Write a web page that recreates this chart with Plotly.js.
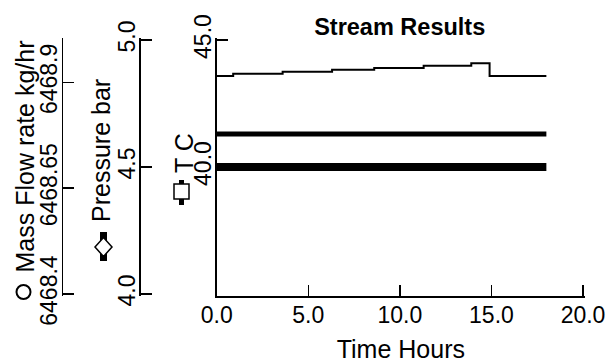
<!DOCTYPE html>
<html><head><meta charset="utf-8">
<script src="https://cdn.plot.ly/plotly-3.0.1.min.js"></script>
<style>html,body{margin:0;padding:0;background:#fff}#chart{width:610px;height:363px}</style>
</head><body><div id="chart"></div>
<script>
// ---- data ----
const timeHours     = [0, 0.9, 3.6, 6.3, 8.6, 11.3, 13.9, 14.9, 18.0];
const massFlowKgHr  = [6468.915, 6468.920, 6468.925, 6468.930, 6468.934, 6468.939, 6468.945, 6468.915, 6468.915];
const pressureBar   = [4.5, 4.5, 4.5, 4.5, 4.5, 4.5, 4.5, 4.5, 4.5];
const temperatureC  = [41.3, 41.3, 41.3, 41.3, 41.3, 41.3, 41.3, 41.3, 41.3];
const xTickVals     = [0, 5, 10, 15, 20];
const tempTickVals  = [40, 45];
const presTickVals  = [4.0, 4.5, 5.0];
const massTickVals  = [6468.4, 6468.65, 6468.9];
const massTickText  = ['6468.4', '6468.65', '6468.9'];

// ---- geometry helpers (pixel -> paper) ----
const W = 610, H = 363, ML = 0, MR = 25, MT = 38, MB = 67;
const PW = W - ML - MR, PH = H - MT - MB;
const px = p => (p - ML) / PW;
const py = p => 1 - (p - MT) / PH;
// pad axis ranges by a couple of pixels so Plotly keeps the end ticks
const PAD = 2;
const padRange = (lo, hi, lenPx) => [lo - PAD * (hi - lo) / lenPx, hi + PAD * (hi - lo) / lenPx];
const padHigh = (lo, hi, lenPx) => [lo, hi + PAD * (hi - lo) / lenPx];
const XLEN = 366, YLEN = 254;

const FONT = 'Liberation Sans, Arial, sans-serif';
const tickFont = {family: FONT, size: 23, color: '#000'};
const axisCommon = {
  showgrid: false, zeroline: false, showline: true, linecolor: '#000', linewidth: 1.5,
  ticks: 'inside', ticklen: 11, tickwidth: 1.5, tickcolor: '#000', tickfont: tickFont
};

const traces = [
  {x: timeHours, y: temperatureC, yaxis: 'y', mode: 'lines', name: 'T C',
   line: {color: '#000', width: 5}},
  {x: timeHours, y: pressureBar, yaxis: 'y2', mode: 'lines', name: 'Pressure bar',
   line: {color: '#000', width: 8}},
  {x: timeHours, y: massFlowKgHr, yaxis: 'y3', mode: 'lines', name: 'Mass Flow rate kg/hr',
   line: {color: '#000', width: 2, shape: 'hv'}}
];

const layout = {
  width: W, height: H, margin: {l: ML, r: MR, t: MT, b: MB},
  paper_bgcolor: '#fff', plot_bgcolor: '#fff', showlegend: false,
  font: {family: FONT, color: '#000'},
  title: {text: '<b>Stream Results</b>', font: {family: FONT, size: 23.5, color: '#000'},
          xref: 'container', x: 399.7 / W, xanchor: 'center',
          yref: 'container', y: 1 - 27 / H, yanchor: 'middle'},
  xaxis: Object.assign({}, axisCommon, {
    domain: [px(216.7), 1], range: padHigh(0, 20, XLEN), tickvals: xTickVals, tickformat: '.1f',
    ticklabelstandoff: -2,
    title: {text: 'Time Hours', font: {family: FONT, size: 25, color: '#000'}, standoff: 15}
  }),
  yaxis: Object.assign({}, axisCommon, {
    anchor: 'x', range: padRange(35, 45, YLEN), tickvals: tempTickVals, tickformat: '.1f', tickangle: -90,
    ticklabelstandoff: -5
  }),
  yaxis2: Object.assign({}, axisCommon, {
    overlaying: 'y', anchor: 'free', position: px(139), side: 'left',
    range: padRange(4, 5, YLEN), tickvals: presTickVals, tickformat: '.1f', tickangle: -90,
    ticklabelstandoff: -5
  }),
  yaxis3: Object.assign({}, axisCommon, {
    overlaying: 'y', anchor: 'free', position: px(61.5), side: 'left',
    range: padRange(6468.4, 6469.0, YLEN), tickvals: massTickVals, ticktext: massTickText, tickangle: -90,
    ticklabelstandoff: -5
  }),
  annotations: [
    {text: 'Mass Flow rate kg/hr', xref: 'paper', yref: 'paper', x: px(24), y: py(156.5),
     xanchor: 'center', yanchor: 'middle', textangle: -90, showarrow: false,
     font: {family: FONT, size: 25, color: '#000'}},
    {text: 'Pressure bar', xref: 'paper', yref: 'paper', x: px(101), y: py(151),
     xanchor: 'center', yanchor: 'middle', textangle: -90, showarrow: false,
     font: {family: FONT, size: 25, color: '#000'}},
    {text: 'T C', xref: 'paper', yref: 'paper', x: px(183.5), y: py(153.5),
     xanchor: 'center', yanchor: 'middle', textangle: -90, showarrow: false,
     font: {family: FONT, size: 25, color: '#000'}}
  ],
  shapes: [
    // Mass flow legend symbol: open circle
    {type: 'circle', xref: 'paper', yref: 'paper', x0: px(16.5), x1: px(30.5), y0: py(285), y1: py(299),
     line: {color: '#000', width: 2}, fillcolor: '#fff'},
    // Pressure legend symbol: thick bar + open diamond
    {type: 'line', xref: 'paper', yref: 'paper', x0: px(103.5), x1: px(103.5), y0: py(232), y1: py(261),
     line: {color: '#000', width: 7}},
    {type: 'path', xref: 'paper', yref: 'paper',
     path: 'M ' + px(95) + ',' + py(247) + ' L ' + px(103.5) + ',' + py(237.5) + ' L ' + px(112) + ',' + py(247) +
           ' L ' + px(103.5) + ',' + py(256.5) + ' Z',
     line: {color: '#000', width: 1.5}, fillcolor: '#fff'},
    // T legend symbol: medium bar + open square
    {type: 'line', xref: 'paper', yref: 'paper', x0: px(181.5), x1: px(181.5), y0: py(180), y1: py(205),
     line: {color: '#000', width: 5}},
    {type: 'rect', xref: 'paper', yref: 'paper', x0: px(174), x1: px(189), y0: py(184), y1: py(199),
     line: {color: '#000', width: 1.5}, fillcolor: '#fff'}
  ]
};

Plotly.newPlot('chart', traces, layout, {displayModeBar: false, staticPlot: true});
</script></body></html>
